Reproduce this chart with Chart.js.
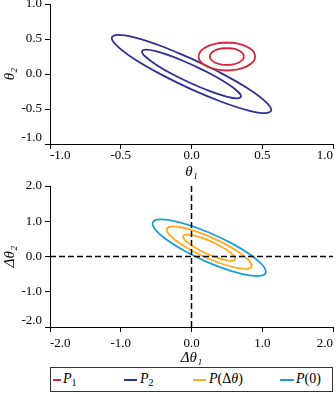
<!DOCTYPE html>
<html>
<head>
<meta charset="utf-8">
<script src="https://cdn.jsdelivr.net/npm/chart.js@4/dist/chart.umd.min.js"></script>
<style>
  body { margin: 0; background: #fff; width: 336px; height: 394px; position: relative; overflow: hidden; font-family: "Liberation Serif", serif; }
  #top { position: absolute; left: 0; top: 0; }
  #bottom { position: absolute; left: 0; top: 180px; }
  #legend { position: absolute; left: 50px; top: 367px; width: 281px; height: 23px; border: 1.3px solid #333; font-size: 14px; color: #000; }
  #legend .it { position: absolute; top: 3px; line-height: 16px; white-space: nowrap; }
  #legend .sw { position: absolute; top: 11px; height: 1.8px; }
  sub { font-size: 10px; vertical-align: -3px; line-height: 0; }
</style>
</head>
<body>
<canvas id="top" width="336" height="180"></canvas>
<canvas id="bottom" width="336" height="186"></canvas>
<div id="legend">
  <span class="sw" style="left:2px;width:8px;background:#d7263d"></span>
  <span class="it" style="left:12px"><i>P</i><sub>1</sub></span>
  <span class="sw" style="left:73px;width:13px;background:#2e3192"></span>
  <span class="it" style="left:89px"><i>P</i><sub>2</sub></span>
  <span class="sw" style="left:142px;width:13px;background:#ffab1f"></span>
  <span class="it" style="left:158px"><i>P</i>(Δ<i>θ</i>)</span>
  <span class="sw" style="left:229px;width:14px;background:#1c9fd6"></span>
  <span class="it" style="left:245px"><i>P</i>(0)</span>
</div>
<script>
// contour points, [x, y]
const p1Outer = [[0.25,0.45],[0.173,0.435],[0.109,0.391],[0.065,0.327],[0.05,0.25],[0.065,0.173],[0.109,0.109],[0.173,0.065],[0.25,0.05],[0.327,0.065],[0.391,0.109],[0.435,0.173],[0.45,0.25],[0.435,0.327],[0.391,0.391],[0.327,0.435],[0.25,0.45]];
const p1Inner = [[0.25,0.37],[0.204,0.361],[0.165,0.335],[0.139,0.296],[0.13,0.25],[0.139,0.204],[0.165,0.165],[0.204,0.139],[0.25,0.13],[0.296,0.139],[0.335,0.165],[0.361,0.204],[0.37,0.25],[0.361,0.296],[0.335,0.335],[0.296,0.361],[0.25,0.37]];
const p2Outer = [[0,0.22],[-0.216,0.4],[-0.399,0.519],[-0.521,0.559],[-0.564,0.514],[-0.521,0.391],[-0.399,0.207],[-0.216,-0.006],[0,-0.22],[0.216,-0.4],[0.399,-0.519],[0.521,-0.559],[0.564,-0.514],[0.521,-0.391],[0.399,-0.207],[0.216,0.006],[0,0.22]];
const p2Inner = [[0,0.136],[-0.134,0.248],[-0.247,0.322],[-0.323,0.347],[-0.35,0.319],[-0.323,0.243],[-0.247,0.13],[-0.134,-0.004],[0,-0.136],[0.134,-0.248],[0.247,-0.322],[0.323,-0.347],[0.35,-0.319],[0.323,-0.243],[0.247,-0.13],[0.134,0.004],[0,0.136]];
const pZero = [[0.25,0.68],[-0.056,0.907],[-0.316,1.035],[-0.489,1.043],[-0.55,0.93],[-0.489,0.713],[-0.316,0.427],[-0.056,0.113],[0.25,-0.18],[0.556,-0.407],[0.816,-0.535],[0.989,-0.543],[1.05,-0.43],[0.989,-0.213],[0.816,0.073],[0.556,0.387],[0.25,0.68]];
const pDeltaOuter = [[0.25,0.57],[0.02,0.741],[-0.174,0.837],[-0.304,0.844],[-0.35,0.76],[-0.304,0.598],[-0.174,0.385],[0.02,0.149],[0.25,-0.07],[0.48,-0.241],[0.674,-0.337],[0.804,-0.344],[0.85,-0.26],[0.804,-0.098],[0.674,0.115],[0.48,0.351],[0.25,0.57]];
const pDeltaInner = [[0.25,0.45],[0.108,0.556],[-0.012,0.614],[-0.092,0.618],[-0.12,0.565],[-0.092,0.464],[-0.012,0.332],[0.108,0.186],[0.25,0.05],[0.392,-0.056],[0.512,-0.114],[0.592,-0.118],[0.62,-0.065],[0.592,0.036],[0.512,0.168],[0.392,0.314],[0.25,0.45]];
const zeroH = [[-2,0],[2,0]];
const zeroV = [[0,-2],[0,2]];

const topTicks = [-1, -0.5, 0, 0.5, 1];
const bottomTicks = [-2, -1, 0, 1, 2];

const RED = "#d7263d", BLUE = "#2e3192", ORANGE = "#ffab1f", CYAN = "#1c9fd6";

const tickFont = { family: "Liberation Serif", size: 13, lineHeight: 1 };
const titleFont = { family: "Liberation Serif", size: 15, style: "italic", lineHeight: 1 };

function curve(pts, color) {
  return {
    data: pts.map(p => ({ x: p[0], y: p[1] })),
    borderColor: color, borderWidth: 1.8,
    showLine: true, pointRadius: 0, tension: 0.4, fill: false
  };
}
function dashed(pts) {
  return {
    data: pts.map(p => ({ x: p[0], y: p[1] })),
    borderColor: "#000", borderWidth: 1.5, borderDash: [6, 3],
    showLine: true, pointRadius: 0, fill: false
  };
}

function scales(vals, xTitle, yTitle, xHeight, xPad) {
  const base = {
    type: "linear", min: vals[0], max: vals[vals.length - 1],
    afterBuildTicks: s => { s.ticks = vals.map(v => ({ value: v })); },
    grid: { drawOnChartArea: false, tickLength: 5, color: "#000", tickWidth: 1 },
    border: { display: true, color: "#000", width: 1 }
  };
  return {
    x: Object.assign({}, base, {
      ticks: { font: tickFont, color: "#000", padding: xPad, align: "inner", maxRotation: 0,
               callback: v => v.toFixed(1) },
      title: { display: true, text: xTitle, font: titleFont, color: "#000", padding: { top: 0, bottom: 0 } },
      afterFit: s => { s.height = xHeight; s.paddingLeft = 0; s.paddingRight = 0; }
    }),
    y: Object.assign({}, base, {
      ticks: { font: tickFont, color: "#000", padding: 3,
               callback: (v, i) => i === 0 ? [v.toFixed(1), ""] : v.toFixed(1) },
      title: { display: true, text: yTitle, font: titleFont, color: "#000", padding: { top: 3, bottom: 0 } },
      afterFit: s => { s.width = 50; s.paddingTop = 0; s.paddingBottom = 0; }
    })
  };
}

const common = {
  responsive: false, animation: false, events: [],
  plugins: { legend: { display: false }, tooltip: { enabled: false } }
};

new Chart(document.getElementById("top"), {
  type: "scatter",
  data: { datasets: [
    curve(p1Outer, RED), curve(p1Inner, RED),
    curve(p2Outer, BLUE), curve(p2Inner, BLUE)
  ] },
  options: Object.assign({}, common, {
    layout: { padding: { top: 4, right: 3, left: 0, bottom: 0 } },
    scales: scales(topTicks, "θ₁", "θ₂", 36, 0)
  })
});

new Chart(document.getElementById("bottom"), {
  type: "scatter",
  data: { datasets: [
    dashed(zeroH), dashed(zeroV),
    curve(pZero, CYAN),
    curve(pDeltaOuter, ORANGE), curve(pDeltaInner, ORANGE)
  ] },
  options: Object.assign({}, common, {
    layout: { padding: { top: 6, right: 3, left: 0, bottom: 0 } },
    scales: scales(bottomTicks, "Δθ₁", "Δθ₂", 39, 5)
  })
});
</script>
</body>
</html>
